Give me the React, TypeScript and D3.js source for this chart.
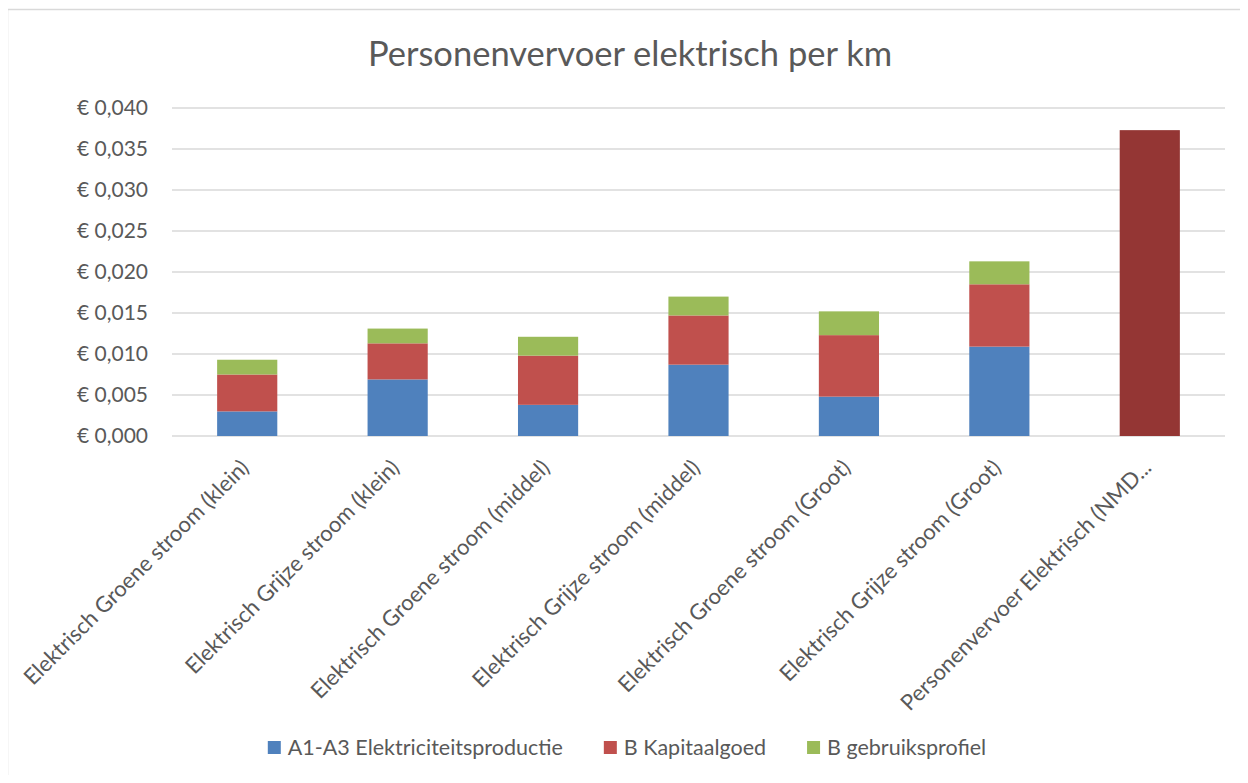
import React, { useEffect, useRef } from "react";
import * as d3 from "d3";

const categories = [
  "Elektrisch Groene stroom (klein)",
  "Elektrisch Grijze stroom (klein)",
  "Elektrisch Groene stroom (middel)",
  "Elektrisch Grijze stroom (middel)",
  "Elektrisch Groene stroom (Groot)",
  "Elektrisch Grijze stroom (Groot)",
  "Personenvervoer Elektrisch (NMD...",
];

const productie = [0.003, 0.0069, 0.0038, 0.0087, 0.0048, 0.0109, 0];
const kapitaalgoed = [0.0045, 0.0044, 0.006, 0.006, 0.0075, 0.0076, 0];
const gebruiksprofiel = [0.0018, 0.0018, 0.0023, 0.0023, 0.0029, 0.0028, 0];
const nmdTotaal = [0, 0, 0, 0, 0, 0, 0.0373];

const legendNames = ["A1-A3 Elektriciteitsproductie", "B Kapitaalgoed", "B gebruiksprofiel"];
const yTicks = [0, 0.005, 0.01, 0.015, 0.02, 0.025, 0.03, 0.035, 0.04];
const title = "Personenvervoer elektrisch per km";

const colors = ["#4F81BD", "#C0504D", "#9BBB59", "#943634"];
const FONT = "Lato, 'Open Sans', sans-serif";
const TXT = "#595959";

export default function App() {
  const ref = useRef<SVGSVGElement>(null);

  useEffect(() => {
    const svg = d3.select(ref.current);
    svg.selectAll("*").remove();

    const W = 1248, H = 783;
    const x = d3.scaleBand<string>().domain(categories).range([172, 1225]).paddingInner(0.6).paddingOuter(0.3);
    const y = d3.scaleLinear().domain([0, 0.04]).range([436, 108]);

    svg.append("rect").attr("x", 0).attr("y", 0).attr("width", W).attr("height", H).attr("fill", "#fff");
    svg.append("rect").attr("x", 7.5).attr("y", 9.5).attr("width", W + 20).attr("height", H + 20)
      .attr("fill", "none").attr("stroke", "#D9D9D9").attr("stroke-width", 1.5);

    svg.append("text").attr("x", 630).attr("y", 66).attr("text-anchor", "middle")
      .attr("font-family", FONT).attr("font-size", 34.5).attr("fill", TXT).text(title);

    // gridlines
    svg.append("g").selectAll("line").data(yTicks).join("line")
      .attr("x1", 172).attr("x2", 1225)
      .attr("y1", (d) => y(d)).attr("y2", (d) => y(d))
      .attr("stroke", "#D9D9D9").attr("stroke-width", 1.5);

    // y labels
    svg.append("g").selectAll("text").data(yTicks).join("text")
      .attr("x", 148).attr("y", (d) => y(d)).attr("dy", "0.35em").attr("text-anchor", "end")
      .attr("font-family", FONT).attr("font-size", 21).attr("fill", TXT)
      .text((d) => "€ " + d.toFixed(3).replace(".", ","));

    const table = categories.map((c, i) => ({
      cat: c,
      s0: productie[i],
      s1: kapitaalgoed[i],
      s2: gebruiksprofiel[i],
      s3: nmdTotaal[i],
    }));
    const stack = d3.stack<any>().keys(["s0", "s1", "s2", "s3"]);
    const layers = stack(table);

    svg.append("g").selectAll("g").data(layers).join("g")
      .attr("fill", (_, i) => colors[i])
      .selectAll("rect").data((d) => d).join("rect")
      .attr("x", (d: any) => x(d.data.cat)!)
      .attr("width", x.bandwidth())
      .attr("y", (d) => y(d[1]))
      .attr("height", (d) => Math.max(0, y(d[0]) - y(d[1])));

    // x labels
    svg.append("g").selectAll("text").data(categories).join("text")
      .attr("transform", (d) => `translate(${x(d)! + x.bandwidth() / 2 + 3},${469}) rotate(-45)`)
      .attr("text-anchor", "end")
      .attr("font-family", FONT).attr("font-size", 22).attr("fill", TXT)
      .text((d) => d);

    // legend
    const lg = svg.append("g").attr("font-family", FONT).attr("font-size", 21.5).attr("fill", TXT);
    const items = legendNames.map((n, i) => ({ n, i }));
    let cx = 0;
    const pos: number[] = [];
    items.forEach((it) => {
      const t = lg.append("text").attr("x", -1000).text(it.n);
      const w = (t.node() as SVGTextElement).getComputedTextLength();
      t.remove();
      pos.push(cx);
      cx += 13 + 7 + w + 41;
    });
    const total = cx - 41;
    const start = 627 - total / 2;
    items.forEach((it, k) => {
      const x0 = start + pos[k];
      lg.append("rect").attr("x", x0).attr("y", 741).attr("width", 13).attr("height", 13).attr("fill", colors[it.i]);
      lg.append("text").attr("x", x0 + 20).attr("y", 747.5).attr("dy", "0.35em").text(it.n);
    });
  }, []);

  return <svg ref={ref} width={1248} height={783} style={{ display: "block", margin: "-8px" }} />;
}
